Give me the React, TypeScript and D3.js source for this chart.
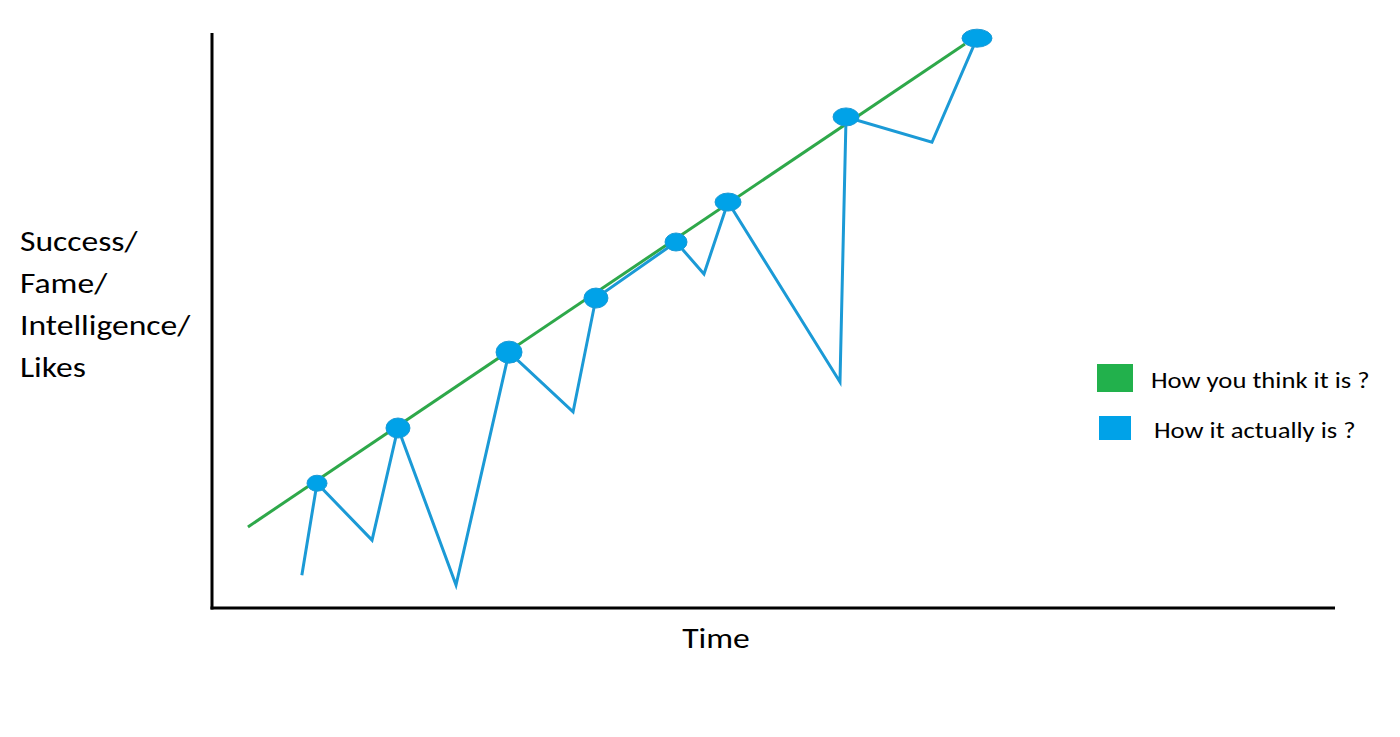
import React from "react";
import * as d3 from "d3";

// Abstract data units (0-100 on both axes)
const greenLine: [number, number][] = [
  [3.2, 14.1],
  [67.05, 98.1],
];
const actualX = [8.0, 9.35, 14.25, 16.56, 21.73, 26.45, 32.15, 34.19, 41.32, 43.81, 45.95, 55.92, 56.46, 64.11, 68.12];
const actualY = [5.7, 21.7, 11.8, 31.3, 4.0, 44.5, 34.1, 53.9, 63.65, 58.1, 70.6, 39.3, 85.4, 81.0, 99.1];
// indices of points that carry a marker, and marker radii
const markerIdx = [1, 3, 5, 7, 8, 10, 12, 14];
const markerRx = [10, 12, 13, 12, 11, 13, 13, 15];
const markerRy = [8, 10, 11, 10, 9, 9, 9, 9];

const yLabelLines = ["Success/", "Fame/", "Intelligence/", "Likes"];
const xLabel = "Time";
const legendItems = [
  { label: "How you think it is ?", color: "#22b14c" },
  { label: "How it actually is ?", color: "#00a2e8" },
];

export default function App() {
  const W = 1400, H = 737;
  const x = d3.scaleLinear().domain([0, 100]).range([212, 1335]);
  const y = d3.scaleLinear().domain([0, 100]).range([608, 33]);
  const line = d3.line<[number, number]>().x(d => x(d[0])).y(d => y(d[1]));
  const actual: [number, number][] = actualX.map((v, i) => [v, actualY[i]]);
  const font = "Carlito, Lato, 'Open Sans', sans-serif";
  const sx = 1.2;
  return (
    <svg width={W} height={H} style={{ position: "absolute", left: 0, top: 0, background: "#fff" }}>
      <rect x={0} y={0} width={W} height={H} fill="#fff" />
      {/* axes */}
      <line x1={x(0)} y1={y(100)} x2={x(0)} y2={y(0) + 1.5} stroke="#000" strokeWidth={3} />
      <line x1={x(0) - 1.5} y1={y(0)} x2={x(100)} y2={y(0)} stroke="#000" strokeWidth={3} />
      {/* green expectation */}
      <path d={line(greenLine) || ""} fill="none" stroke="#2ea84a" strokeWidth={3} />
      {/* blue actual */}
      <path d={line(actual) || ""} fill="none" stroke="#1b9ad6" strokeWidth={3} strokeLinejoin="miter" />
      {markerIdx.map((idx, k) => (
        <ellipse key={k} cx={x(actualX[idx])} cy={y(actualY[idx])} rx={markerRx[k]} ry={markerRy[k]} fill="#00a2e8" stroke="#1b9ad6" strokeWidth={1} />
      ))}
      {/* y label */}
      {yLabelLines.map((t, i) => (
        <text key={t} transform={`translate(20,${251 + i * 42}) scale(${sx},1)`} fontFamily={font} fontSize={28} fill="#000">{t}</text>
      ))}
      {/* x label */}
      <text transform={`translate(716,648) scale(${sx},1)`} textAnchor="middle" fontFamily={font} fontSize={28} fill="#000">{xLabel}</text>
      {/* legend */}
      {legendItems.map((it, i) => (
        <g key={it.label}>
          <rect x={i === 0 ? 1097 : 1099} y={i === 0 ? 364 : 416} width={i === 0 ? 36 : 32} height={i === 0 ? 28 : 24} fill={it.color} />
          <text transform={`translate(${i === 0 ? 1151 : 1154},${i === 0 ? 388 : 438}) scale(1.24,1)`} fontFamily={font} fontSize={21.5} fill="#000">{it.label}</text>
        </g>
      ))}
    </svg>
  );
}
